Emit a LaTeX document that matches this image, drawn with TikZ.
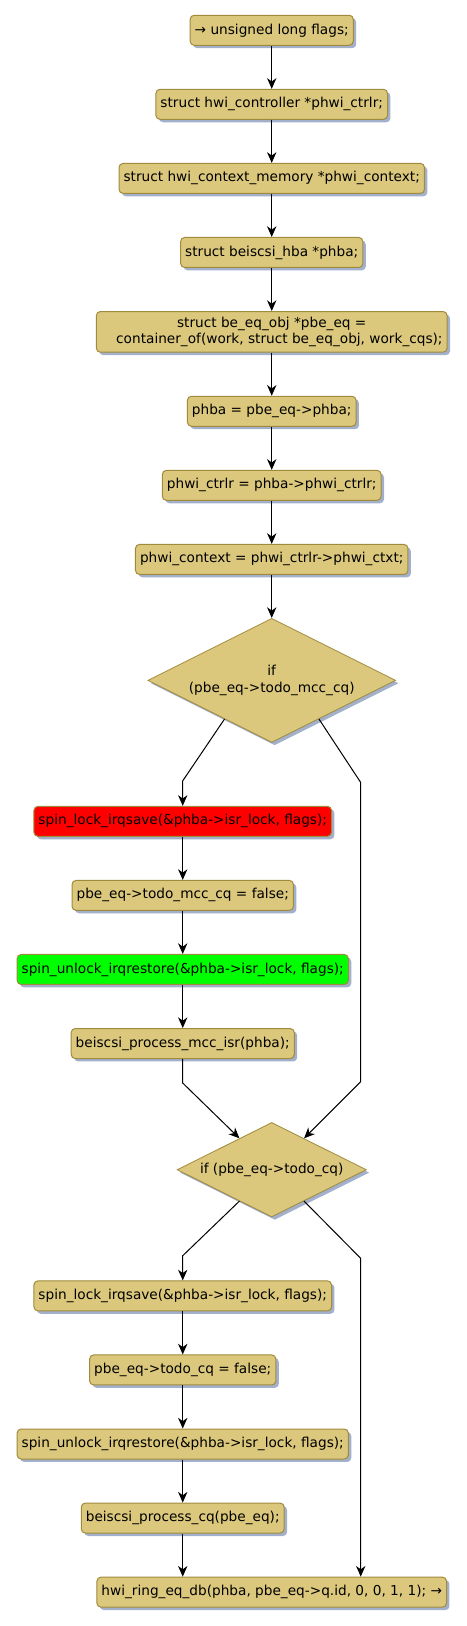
\documentclass[tikz,border=0pt]{standalone}
\usepackage{fontspec}
\setmainfont{DejaVu Sans}
\usetikzlibrary{arrows.meta,positioning,shapes.geometric,shadows,calc}

\definecolor{actfill}{RGB}{219,200,124}
\definecolor{actline}{RGB}{160,138,60}
\definecolor{shadowblue}{RGB}{163,176,203}
\definecolor{lockred}{RGB}{255,0,0}
\definecolor{unlockgreen}{RGB}{0,255,0}

\begin{document}
\begin{tikzpicture}[
  font=\fontsize{10.25}{12.5}\selectfont,
  >={Stealth[length=8pt, width=7pt, inset=2.5pt]},
  action/.style={draw=actline, fill=actfill, rounded corners=3pt, align=center,
                 minimum height=22.5pt, inner xsep=3.4pt, inner ysep=3pt, line width=0.75pt,
                 drop shadow={shadow xshift=2.2pt, shadow yshift=-2.2pt, fill=shadowblue, opacity=1}},
  decision/.style={diamond, draw=actline, fill=actfill, aspect=2, inner sep=0pt, align=center,
                   line width=0.6pt,
                   drop shadow={shadow xshift=2.2pt, shadow yshift=-2.2pt, fill=shadowblue, opacity=1}},
  flow/.style={->, line width=0.75pt},
  node distance=32.3pt,
]
\useasboundingbox (0,0) rectangle (350.25pt,-1219.5pt);

% ---- declarations and setup ------------------------------------------
\node[action] (flags) at (203.8pt,-22.7pt) {→ unsigned long flags;};
\node[action, below=of flags] (ctrlr) {struct hwi\_controller *phwi\_ctrlr;};
\node[action, below=of ctrlr] (ctxmem) {struct hwi\_context\_memory *phwi\_context;};
\node[action, below=of ctxmem] (hba) {struct beiscsi\_hba *phba;};
\node[action, below=of hba, minimum height=30.5pt] (eqobj)
  {struct be\_eq\_obj *pbe\_eq =\\\hspace*{11.5pt}container\_of(work, struct be\_eq\_obj, work\_cqs);};
\node[action, below=of eqobj] (getphba) {phba = pbe\_eq->phba;};
\node[action, below=of getphba] (getctrlr) {phwi\_ctrlr = phba->phwi\_ctrlr;};
\node[action, below=of getctrlr] (getctxt) {phwi\_context = phwi\_ctrlr->phwi\_ctxt;};

% ---- mcc branch ---------------------------------------------------------
\node[decision, below=of getctxt, minimum width=185.8pt, minimum height=93pt] (ifmcc)
  {if\\(pbe\_eq->todo\_mcc\_cq)};
\node[action, below=47.3pt of ifmcc, xshift=-66.75pt, fill=lockred] (lockmcc)
  {spin\_lock\_irqsave(\&phba->isr\_lock, flags);};
\node[action, below=of lockmcc] (clrmcc) {pbe\_eq->todo\_mcc\_cq = false;};
\node[action, below=of clrmcc, fill=unlockgreen] (unlockmcc)
  {spin\_unlock\_irqrestore(\&phba->isr\_lock, flags);};
\node[action, below=of unlockmcc] (mccisr) {beiscsi\_process\_mcc\_isr(phba);};

% ---- cq branch ----------------------------------------------------------
\node[decision, below=47.3pt of mccisr, xshift=66.75pt, minimum width=142pt, minimum height=70.8pt] (ifcq)
  {if (pbe\_eq->todo\_cq)};
\node[action, below=47.3pt of ifcq, xshift=-66.75pt] (lockcq)
  {spin\_lock\_irqsave(\&phba->isr\_lock, flags);};
\node[action, below=of lockcq] (clrcq) {pbe\_eq->todo\_cq = false;};
\node[action, below=of clrcq] (unlockcq)
  {spin\_unlock\_irqrestore(\&phba->isr\_lock, flags);};
\node[action, below=of unlockcq] (proccq) {beiscsi\_process\_cq(pbe\_eq);};
\node[action, below=of proccq, xshift=66.75pt] (ringdb)
  {hwi\_ring\_eq\_db(phba, pbe\_eq->q.id, 0, 0, 1, 1); →};

% ---- straight flow ------------------------------------------------------
\draw[flow] (flags) -- (ctrlr);
\draw[flow] (ctrlr) -- (ctxmem);
\draw[flow] (ctxmem) -- (hba);
\draw[flow] (hba) -- (eqobj);
\draw[flow] (eqobj) -- (getphba);
\draw[flow] (getphba) -- (getctrlr);
\draw[flow] (getctrlr) -- (getctxt);
\draw[flow] (getctxt) -- (ifmcc);
\draw[flow] (lockmcc) -- (clrmcc);
\draw[flow] (clrmcc) -- (unlockmcc);
\draw[flow] (unlockmcc) -- (mccisr);
\draw[flow] (lockcq) -- (clrcq);
\draw[flow] (clrcq) -- (unlockcq);
\draw[flow] (unlockcq) -- (proccq);
\draw[flow] (proccq) -- ([xshift=-66.75pt]ringdb.north);

% ---- branches out of the decisions --------------------------------------
\draw[flow] ($(ifmcc.west)!0.62!(ifmcc.south)$) -- ([yshift=18.75pt]lockmcc.north) -- (lockmcc.north);
\draw[flow] ($(ifmcc.east)!0.62!(ifmcc.south)$)
  -- ($(ifmcc.center |- lockmcc.north)+(66.75pt,17.5pt)$)
  -- ($(ifmcc.center |- mccisr.south)+(66.75pt,-17pt)$)
  -- ($(ifcq.north)!0.34!(ifcq.east)$);
\draw[flow] (mccisr.south) -- ([yshift=-18pt]mccisr.south) -- ($(ifcq.north)!0.34!(ifcq.west)$);
\draw[flow] ($(ifcq.west)!0.66!(ifcq.south)$) -- ([yshift=18.5pt]lockcq.north) -- (lockcq.north);
\draw[flow] ($(ifcq.east)!0.66!(ifcq.south)$)
  -- ($(ifcq.center |- lockcq.north)+(66.75pt,16.5pt)$)
  -- ([xshift=66.75pt]ringdb.north);

\end{tikzpicture}
\end{document}
